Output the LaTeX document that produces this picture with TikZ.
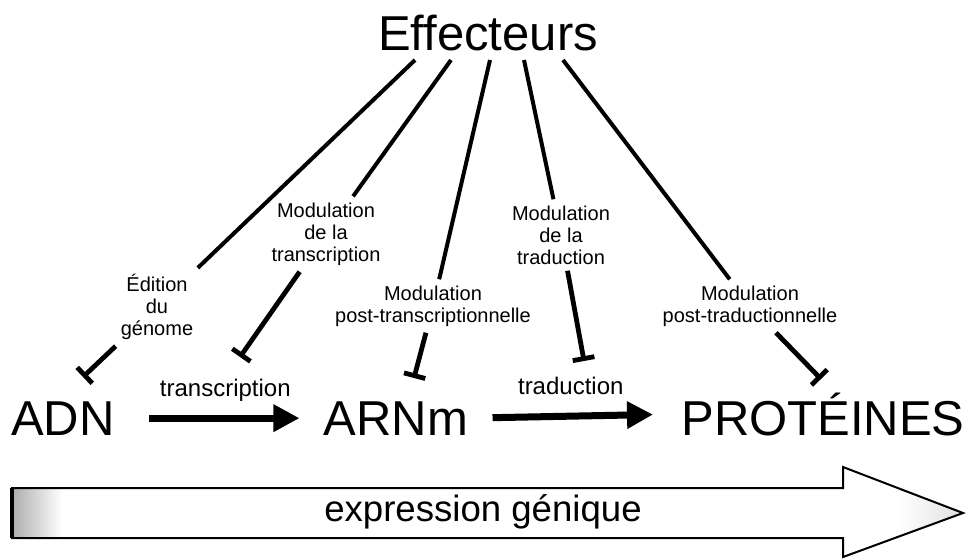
\documentclass[tikz,border=0pt]{standalone}
\usepackage{fontspec}
\setmainfont{Liberation Sans}
\usetikzlibrary{arrows.meta}

\begin{document}
\begin{tikzpicture}[
    x=0.5pt, y=-0.5pt,
    big/.style={font=\fontsize{24.5}{29}\selectfont, inner sep=0pt, anchor=base},
    proclabel/.style={font=\fontsize{12}{14}\selectfont, anchor=base},
    modul/.style={font=\fontsize{10}{11}\selectfont, align=center, inner sep=3pt},
    effline/.style={line width=2pt},
    inhib/.style={line width=2.4pt, -{Bar[width=11pt, line width=2.4pt]}},
    flow/.style={line width=3.5pt, -{Triangle[length=13pt, width=13pt]}}
    ]
    \useasboundingbox (0,0) rectangle (969,559);

    % main chain
    \node[big] (eff) at (488,50) {Effecteurs};
    \node[big] (adn) at (63,435) {ADN};
    \node[big] (arn) at (396,435) {ARNm};
    \node[big] (prot) at (823,435) {PROTÉINES};

    \draw[flow, shorten <=17pt, shorten >=12pt] (adn.east) -- (arn.west)
      node[proclabel, midway, yshift=11pt, xshift=3pt] (lbltsc) {transcription};
    \draw[flow, shorten <=12pt, shorten >=14pt] (arn.east) -- (prot.west)
      node[proclabel, midway, yshift=11pt, xshift=-2pt] (lbltrd) {traduction};

    % effectors
    \coordinate (e1) at (415,60);
    \coordinate (e2) at (451,60);
    \coordinate (e3) at (490,60);
    \coordinate (e4) at (524,60);
    \coordinate (e5) at (563,60);

    \node[modul] (edit) at (157,307) {Édition\\du\\génome};
    \node[modul] (mtsc) at (326,234) {Modulation\\de la\\transcription};
    \node[modul] (mpost) at (433,306) {Modulation\\post-transcriptionnelle};
    \node[modul] (mtrd) at (561,235) {Modulation\\de la\\traduction};
    \node[modul] (mptrd) at (750,306) {Modulation\\post-traductionnelle};

    \coordinate (t1) at (83,377);
    \coordinate (t2) at (240,357);
    \coordinate (t3) at (414,378);
    \coordinate (t4) at (584,361);
    \coordinate (t5) at (821,379);

    \draw[effline] (e1) -- (edit);
    \draw[effline] (e2) -- (mtsc);
    \draw[effline] (e3) -- (mpost);
    \draw[effline] (e4) -- (mtrd);
    \draw[effline] (e5) -- (mptrd);
    \draw[inhib] (edit) -- (t1);
    \draw[inhib] (mtsc) -- (t2);
    \draw[inhib] (mpost) -- (t3);
    \draw[inhib] (mtrd) -- (t4);
    \draw[inhib] (mptrd) -- (t5);

    % big arrow
    \fill[left color=gray!65, right color=white] (12,488) rectangle (62,538);
    \fill[left color=white, right color=gray!25] (900,490) -- (963,513) -- (900,536) -- cycle;
    \draw[line width=1pt] (12,488) -- (843,488) -- (843,467) -- (963,513)
      -- (843,557) -- (843,538) -- (12,538) -- cycle;
    \draw[line width=1.6pt] (12,488) -- (12,538);
    \node[font=\fontsize{18.3}{22}\selectfont] (expr) at (483,512) {expression génique};
\end{tikzpicture}
\end{document}
